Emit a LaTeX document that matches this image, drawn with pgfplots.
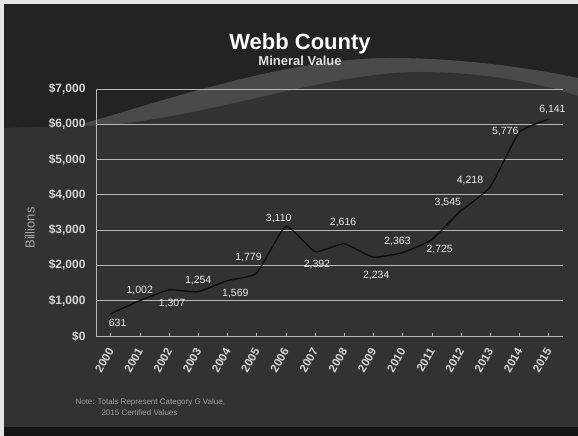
\documentclass[border=0pt]{standalone}
\usepackage{fontspec}
\setmainfont{Liberation Sans}
\usepackage{pgfplots}
\usepackage{pgfplotstable}
\pgfplotsset{compat=1.18}
\definecolor{slidebg}{HTML}{232323}
\definecolor{backwave}{HTML}{4A4A4A}
\definecolor{frontwave}{HTML}{323232}
\definecolor{gridc}{HTML}{B8B8B8}
\definecolor{ticktxt}{HTML}{D6D6D6}
\pgfplotstableread{
x y dx dy
2000 631 7 -9
2001 1002 0 10
2002 1307 3 -14
2003 1254 0 11
2004 1569 8 -13
2005 1779 -8 16
2006 3110 -7 8
2007 2392 2 -13
2008 2616 -1 21
2009 2234 3 -18
2010 2363 -5 11
2011 2725 8 -10
2012 3545 -13 8
2013 4218 -20 7
2014 5776 -14 1
2015 6141 4 10
}\datatable
\begin{document}
\begin{tikzpicture}[x=1pt,y=1pt]
\useasboundingbox (0,0) rectangle (578,436);
\fill[white!90!black] (0,0) rectangle (578,436);
\fill[slidebg] (4,8) rectangle (578,432);
% back wave
\fill[backwave] (60,306) .. controls (150,330) and (280,378) .. (390,378)
  .. controls (470,378) and (540,366) .. (578,358) -- (578,8) -- (60,8) -- cycle;
% front wave
\fill[frontwave] (4,308) -- (110,311) .. controls (220,322) and (330,364) .. (420,364)
  .. controls (490,364) and (550,350) .. (578,340) -- (578,8) -- (4,8) -- cycle;
\fill[black!92] (0,0) rectangle (578,9);
\fill[white!90!black] (0,0) rectangle (4,436);
% titles
\node[text=white, font=\bfseries\fontsize{22}{24}\selectfont] at (300,392) {Webb County};
\node[text=white!88!black, font=\bfseries\fontsize{13}{15}\selectfont] at (300,375) {Mineral Value};
\node[text=gray!70, font=\fontsize{13}{15}\selectfont, rotate=90] at (30,208) {Billions};
\node[text=gray!75, font=\fontsize{8}{9}\selectfont, anchor=west] at (72,34) {Note: Totals Represent Category G Value,};
\node[text=gray!75, font=\fontsize{8}{9}\selectfont, anchor=west] at (98,23) {2015 Certified Values};
\begin{axis}[
  at={(96pt,100pt)}, anchor=south west,
  width=467pt, height=247pt, scale only axis,
  xmin=1999.5, xmax=2015.5, ymin=0, ymax=7000,
  xtick={2000,...,2015},
  xticklabels={2000,2001,2002,2003,2004,2005,2006,2007,2008,2009,2010,2011,2012,2013,2014,2015},
  ytick={0,1000,...,7000},
  yticklabels={{\$0},{\$1,000},{\$2,000},{\$3,000},{\$4,000},{\$5,000},{\$6,000},{\$7,000}},
  ymajorgrids, grid style={gridc, line width=0.8pt},
  axis x line*=bottom, axis y line*=left,
  axis line style={gridc, line width=0.6pt},
  x axis line style={-}, y axis line style={-},
  major tick length=3pt,
  xtick style={gridc}, ytick style={draw=none},
  tick label style={text=ticktxt, font=\bfseries\fontsize{12}{14}\selectfont},
  xticklabel style={xshift=2pt, yshift=-10pt, rotate=60, anchor=east, font=\bfseries\fontsize{11.5}{13}\selectfont},
  yticklabel style={xshift=-7pt},
  /pgf/number format/assume math mode=true,
  clip=false,
]
\addplot[color=black!95, line width=1.4pt, smooth, tension=0.25,
  nodes near coords={\pgfmathprintnumber[1000 sep={,}]{\pgfplotspointmeta}},
  point meta=explicit,
  visualization depends on={\thisrow{dx} \as \dx},
  visualization depends on={\thisrow{dy} \as \dy},
  every node near coord/.append style={anchor=center, text=white!92!black,
     font=\fontsize{10.5}{12}\selectfont, xshift=\dx pt, yshift=\dy pt,
     /pgf/number format/assume math mode=true}
] table[x=x, y=y, meta=y] {\datatable};
\end{axis}
\end{tikzpicture}
\end{document}
